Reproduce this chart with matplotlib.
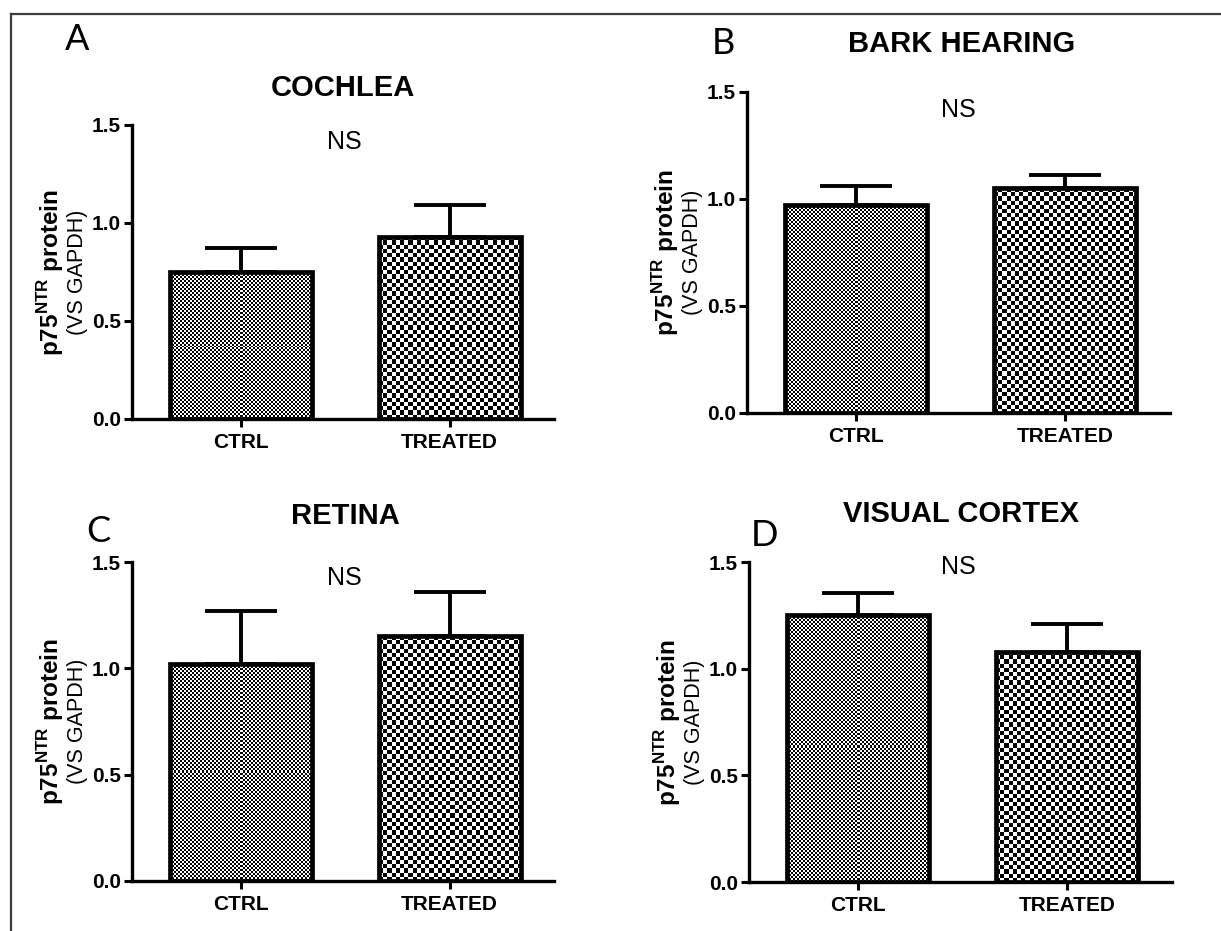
import numpy as np
import matplotlib
matplotlib.use("Agg")
import matplotlib.pyplot as plt
from matplotlib.lines import Line2D

plt.rcParams['font.family'] = ['Liberation Sans', 'DejaVu Sans']
plt.rcParams['mathtext.fontset'] = 'custom'
plt.rcParams['mathtext.rm'] = 'Liberation Sans'
plt.rcParams['mathtext.bf'] = 'Liberation Sans:bold'

# data
letters = ['A', 'B', 'C', 'D']
titles = ['COCHLEA', 'BARK HEARING', 'RETINA', 'VISUAL CORTEX']
groups = ['CTRL', 'TREATED']
ctrl_mean = [0.75, 0.97, 1.02, 1.25]
ctrl_err = [0.12, 0.09, 0.25, 0.105]
treated_mean = [0.93, 1.05, 1.15, 1.08]
treated_err = [0.16, 0.06, 0.21, 0.13]
yticks = [0.0, 0.5, 1.0, 1.5]

W, H = 1221, 931
fig = plt.figure(figsize=(W / 100, H / 100), dpi=100)

# panel geometry in pixels: axes box (left, top, right, bottom), letter, title, NS
boxes = [(132, 125, 554, 419), (747, 92, 1170, 413),
         (132, 562, 554, 881), (749, 562, 1172, 882)]
letter_xy = [(77, 40), (723, 43), (98, 532), (764, 535)]
title_xy = [(343, 88), (962, 44), (345, 516), (961, 514)]
ns_xy = [(344, 142), (958, 110), (344, 578), (958, 567)]


def fig_xy(p):
    return p[0] / W, 1 - p[1] / H


def checker(ax, bar, cell, dark=0.0):
    # pixel-aligned checkerboard clipped to the bar
    x0, y0 = bar.get_x(), bar.get_y()
    x1, y1 = x0 + bar.get_width(), y0 + bar.get_height()
    p0 = ax.transData.transform((x0, y0))
    p1 = ax.transData.transform((x1, y1))
    nc = max(1, int(round(abs(p1[0] - p0[0]) / cell)))
    nr = max(1, int(round(abs(p1[1] - p0[1]) / cell)))
    img = (np.add.outer(np.arange(nr), np.arange(nc)) % 2).astype(float)
    img = np.where(img > 0, 1.0, dark)
    im = ax.imshow(img, cmap='gray', vmin=0, vmax=1, extent=(x0, x1, y0, y1),
                   aspect='auto', interpolation='nearest', origin='lower',
                   zorder=2)
    im.set_clip_path(bar)


for i in range(4):
    l, t, r, b = boxes[i]
    ax = fig.add_axes([l / W, 1 - b / H, (r - l) / W, (b - t) / H])
    x = np.arange(len(groups))
    means = [ctrl_mean[i], treated_mean[i]]
    errs = [ctrl_err[i], treated_err[i]]
    ax.set_xlim(-0.52, 1.5)
    ax.set_ylim(0, 1.5)

    ax.errorbar(x, means, yerr=[[0, 0], errs], fmt='none', ecolor='black',
                elinewidth=2.8, capsize=26, capthick=2.8, zorder=1)
    bars = ax.bar(x, means, width=0.68, facecolor='none', edgecolor='black',
                  linewidth=3.4, zorder=3)
    checker(ax, bars[0], 2.0)
    checker(ax, bars[1], 4.2)
    ax.set_xlim(-0.52, 1.5)
    ax.set_ylim(0, 1.5)

    for s in ['top', 'right']:
        ax.spines[s].set_visible(False)
    for s in ['left', 'bottom']:
        ax.spines[s].set_linewidth(2.4)
    ax.set_yticks(yticks)
    ax.set_yticklabels(['%.1f' % v for v in yticks])
    ax.set_xticks(x)
    ax.set_xticklabels(groups)
    ax.tick_params(axis='both', direction='out', length=6, width=2.2, pad=2)
    ax.tick_params(axis='y', labelsize=15)
    ax.tick_params(axis='x', labelsize=15, pad=4)
    for lab in ax.get_xticklabels() + ax.get_yticklabels():
        lab.set_fontweight('bold')

    ax.annotate(r'p75$^{\mathbf{NTR}}$ protein', xy=(0, 0.5),
                xycoords='axes fraction', xytext=(-59, 0),
                textcoords='offset points', rotation=90, ha='center',
                va='center', fontsize=17.5, fontweight='bold')
    ax.annotate('(VS GAPDH)', xy=(0, 0.5), xycoords='axes fraction',
                xytext=(-39, 0), textcoords='offset points', rotation=90,
                ha='center', va='center', fontsize=15.5)

    fx, fy = fig_xy(letter_xy[i])
    fig.text(fx, fy, letters[i], ha='center', va='center', fontsize=26,
             family=['Lato', 'DejaVu Sans'])
    fx, fy = fig_xy(title_xy[i])
    fig.text(fx, fy, titles[i], ha='center', va='center', fontsize=21,
             fontweight='bold')
    fx, fy = fig_xy(ns_xy[i])
    fig.text(fx, fy, 'NS', ha='center', va='center', fontsize=18)

# frame lines along the top and left edge
fig.add_artist(Line2D([11 / W, 1], [1 - 14 / H, 1 - 14 / H],
                      transform=fig.transFigure, color='#3c3c3c', lw=1.6))
fig.add_artist(Line2D([11 / W, 11 / W], [0, 1 - 14 / H],
                      transform=fig.transFigure, color='#3c3c3c', lw=1.6))

fig.savefig('out.png', dpi=100)
